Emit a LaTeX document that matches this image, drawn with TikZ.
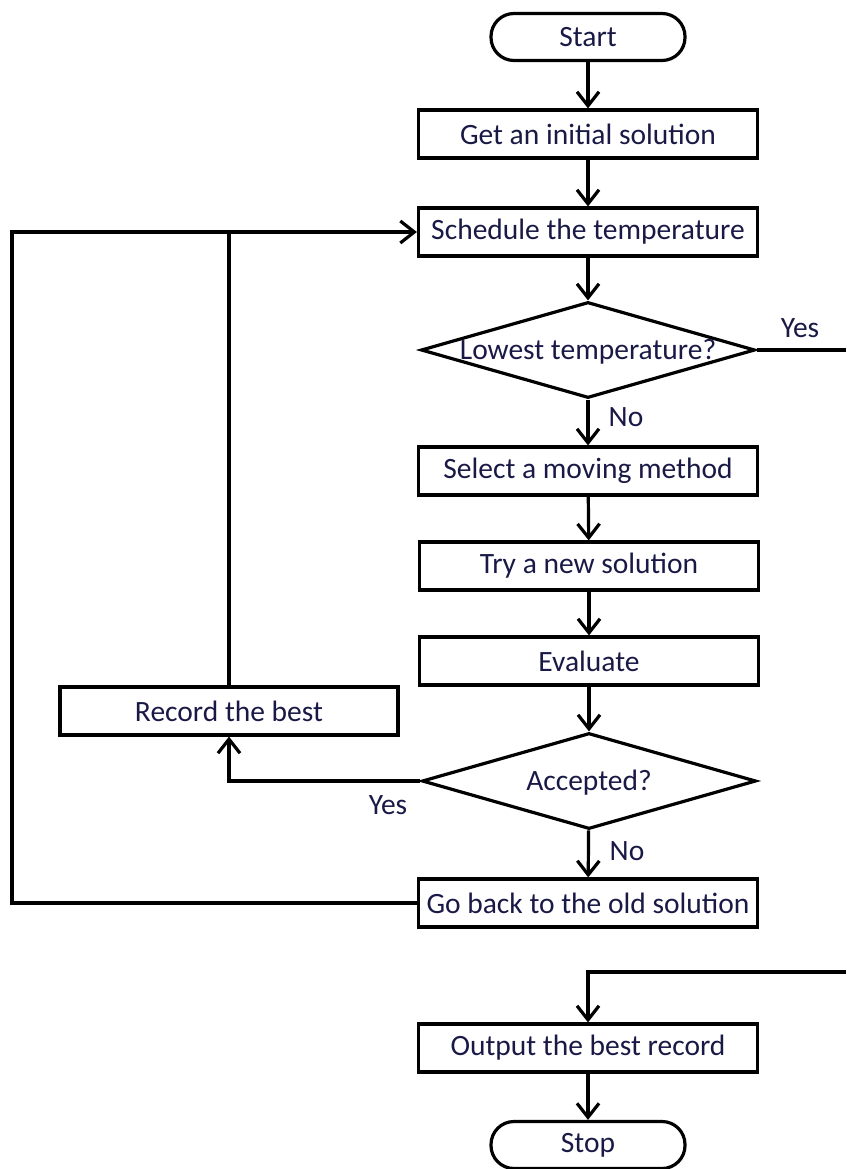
\documentclass[tikz,border=0pt]{standalone}
\usepackage{fontspec}
\setmainfont{Carlito}
\usetikzlibrary{arrows.meta,shapes.geometric}
\definecolor{ink}{RGB}{25,25,70}
\newcommand{\dtext}[1]{\smash{\makebox[0pt]{\raisebox{-0.32em}{#1}}}}
\begin{document}
\begin{tikzpicture}[x=1pt,y=-1pt,
  line width=3.2pt,
  font=\fontsize{29.5}{34}\selectfont,
  every node/.style={text=ink},
  box/.style={draw=black, rectangle, minimum width=339pt, minimum height=48pt, inner sep=0pt},
  term/.style={draw=black, rectangle, rounded corners=23pt, minimum width=194pt, minimum height=47pt, inner sep=0pt},
  decision/.style={draw=black, diamond, minimum width=334pt, minimum height=96pt, inner sep=0pt},
  flow/.style={-{Straight Barb[length=14pt,width=22pt]}},
  tag/.style={inner sep=0pt}
]
\useasboundingbox (0,0) rectangle (846,1169);

% main column
\node[term] (start) at (588,37) {Start};
\node[box] (init) at (588,134) {Get an initial solution};
\node[box] (sched) at (588,232) {Schedule the temperature};
\node[decision] (low) at (588,350) {\dtext{Lowest temperature?}};
\node[box] (select) at (588,471) {Select a moving method};
\node[box] (try) at (589,566) {Try a new solution};
\node[box] (eval) at (589,661) {Evaluate};
\node[decision] (acc) at (589,781) {\dtext{Accepted?}};
\node[box] (back) at (588,903) {Go back to the old solution};
\node[box] (out) at (588,1048) {Output the best record};
\node[term] (stop) at (588,1145) {Stop};

% side branch
\node[box, minimum width=338pt] (rec) at (229,711) {Record the best};

% branch labels
\node[tag] (yes1) at (800,328) {Yes};
\node[tag] (no1) at (626,417) {No};
\node[tag] (yes2) at (388,805) {Yes};
\node[tag] (no2) at (627,851) {No};

% free ends at the right margin
\coordinate (yesend) at (846,350);
\coordinate (outin) at (846,972);
\coordinate (loopL) at (12,232);

% connectors
\draw[flow] (start) -- (init);
\draw[flow] (init) -- (sched);
\draw[flow] (sched) -- (low);
\draw[flow] (low) -- (select);
\draw[flow] (select) -- (try);
\draw[flow] (try) -- (eval);
\draw[flow] (eval) -- (acc);
\draw[flow] (acc) -- (back);
\draw[flow] (out) -- (stop);
\draw (low.east) -- (yesend);
\draw[flow] (outin) -| (out.north);
\draw[flow] (acc.west) -| (rec.south);
\draw (rec.north) -- (rec.north |- sched.west);
\draw[flow] (back.west) -| (loopL) -- (sched.west);
\end{tikzpicture}
\end{document}
